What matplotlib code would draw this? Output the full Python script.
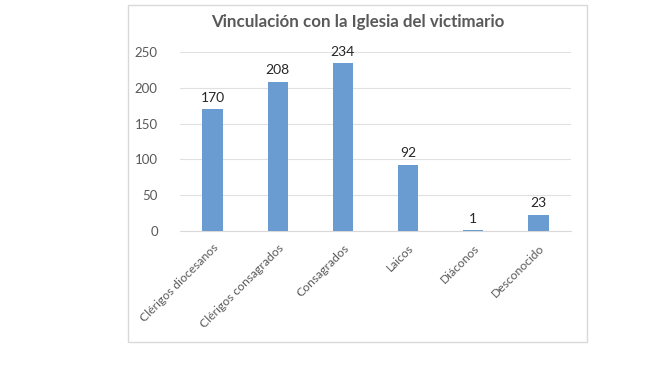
import matplotlib
matplotlib.use("Agg")
from matplotlib import pyplot as plt
from matplotlib.patches import Rectangle

categories = ["Clérigos diocesanos", "Clérigos consagrados", "Consagrados",
              "Laicos", "Diáconos", "Desconocido"]
values = [170, 208, 234, 92, 1, 23]
yticks = [0, 50, 100, 150, 200, 250]

plt.rcParams['font.family'] = ['Lato', 'DejaVu Sans']

fig = plt.figure(figsize=(6.67, 3.75), dpi=100)
fig.patches.append(Rectangle((128 / 667, 1 - 342 / 375), (587 - 128) / 667, (342 - 5) / 375,
                             transform=fig.transFigure, fill=False,
                             edgecolor="#D9D9D9", linewidth=1))

ax = fig.add_axes([180 / 667, 1 - 231 / 375, (571 - 180) / 667, (231 - 52) / 375])
x = range(len(categories))
bars = ax.bar(x, values, width=0.31, color="#6A9BD1", zorder=3)

for b, v in zip(bars, values):
    ax.text(b.get_x() + b.get_width() / 2, v + 8, str(v), ha="center", va="bottom",
            fontsize=10, color="#262626")

ax.set_ylim(0, 250)
ax.set_xlim(-0.5, len(categories) - 0.5)
ax.set_yticks(yticks)
ax.yaxis.grid(True, color="#E0E0E0", linewidth=0.8, zorder=0)
for s in ax.spines.values():
    s.set_visible(False)
ax.spines["bottom"].set_visible(True)
ax.spines["bottom"].set_color("#D9D9D9")
ax.tick_params(axis="y", length=0, labelsize=9.5, labelcolor="#595959", pad=16)
ax.tick_params(axis="x", length=0, labelsize=8.7, labelcolor="#595959", pad=8)
ax.set_xticks(list(x))
ax.set_xticklabels(categories, rotation=45, ha="right", rotation_mode="anchor")

fig.text((217 + 498) / 2 / 667, 1 - 22 / 375, "Vinculación con la Iglesia del victimario",
         ha="center", va="center", fontsize=12.2, fontweight="bold", color="#595959")

fig.savefig("out.png", dpi=100)
